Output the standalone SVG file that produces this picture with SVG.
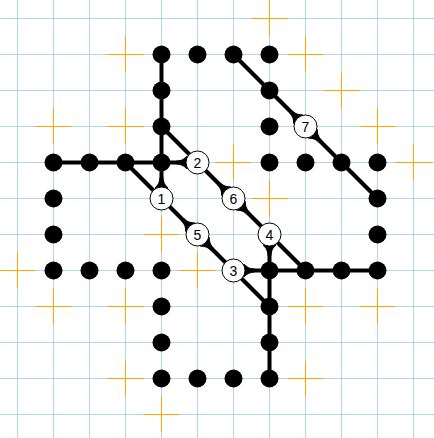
<svg xmlns="http://www.w3.org/2000/svg" xmlns:xlink="http://www.w3.org/1999/xlink" width="434" height="438" viewBox="0 0 434 438">
<style>
.grid line{stroke:#add8e6;stroke-width:1}
.cross{stroke:#ffa500;stroke-width:1;fill:none}
.edge{stroke:#000;stroke-width:4;fill:none;stroke-linejoin:round}
.dot{fill:#000}
.ring{fill:#fff;stroke:#000;stroke-width:1}
.lbl{font-family:"Liberation Sans",Arial,sans-serif;font-size:14px;fill:#000;text-anchor:middle}
</style>
<defs>
<path id="wedge" d="M7,-6.5 L11,-6.5 Q15,-2 21,-2 L21,2 Q15,2 11,6.5 L7,6.5 Z" fill="#000"/>
<path id="cr" d="M-18,0 H18 M0,-18 V18"/>
</defs>
<rect width="434" height="438" fill="#fff"/>
<g class="grid">
<line x1="17.5" y1="0" x2="17.5" y2="438"/>
<line x1="53.5" y1="0" x2="53.5" y2="438"/>
<line x1="89.5" y1="0" x2="89.5" y2="438"/>
<line x1="125.5" y1="0" x2="125.5" y2="438"/>
<line x1="161.5" y1="0" x2="161.5" y2="438"/>
<line x1="197.5" y1="0" x2="197.5" y2="438"/>
<line x1="233.5" y1="0" x2="233.5" y2="438"/>
<line x1="269.5" y1="0" x2="269.5" y2="438"/>
<line x1="305.5" y1="0" x2="305.5" y2="438"/>
<line x1="341.5" y1="0" x2="341.5" y2="438"/>
<line x1="377.5" y1="0" x2="377.5" y2="438"/>
<line x1="413.5" y1="0" x2="413.5" y2="438"/>
<line x1="0" y1="18.5" x2="434" y2="18.5"/>
<line x1="0" y1="54.5" x2="434" y2="54.5"/>
<line x1="0" y1="90.5" x2="434" y2="90.5"/>
<line x1="0" y1="126.5" x2="434" y2="126.5"/>
<line x1="0" y1="162.5" x2="434" y2="162.5"/>
<line x1="0" y1="198.5" x2="434" y2="198.5"/>
<line x1="0" y1="234.5" x2="434" y2="234.5"/>
<line x1="0" y1="270.5" x2="434" y2="270.5"/>
<line x1="0" y1="306.5" x2="434" y2="306.5"/>
<line x1="0" y1="342.5" x2="434" y2="342.5"/>
<line x1="0" y1="378.5" x2="434" y2="378.5"/>
<line x1="0" y1="414.5" x2="434" y2="414.5"/>
</g>
<g class="cross">
<use xlink:href="#cr" href="#cr" transform="translate(125.5,54.5)"/>
<use xlink:href="#cr" href="#cr" transform="translate(53.5,126.5)"/>
<use xlink:href="#cr" href="#cr" transform="translate(125.5,126.5)"/>
<use xlink:href="#cr" href="#cr" transform="translate(233.5,162.5)"/>
<use xlink:href="#cr" href="#cr" transform="translate(161.5,234.5)"/>
<use xlink:href="#cr" href="#cr" transform="translate(269.5,18.5)"/>
<use xlink:href="#cr" href="#cr" transform="translate(305.5,54.5)"/>
<use xlink:href="#cr" href="#cr" transform="translate(341.5,90.5)"/>
<use xlink:href="#cr" href="#cr" transform="translate(377.5,126.5)"/>
<use xlink:href="#cr" href="#cr" transform="translate(413.5,162.5)"/>
<use xlink:href="#cr" href="#cr" transform="translate(269.5,198.5)"/>
<use xlink:href="#cr" href="#cr" transform="translate(197.5,270.5)"/>
<use xlink:href="#cr" href="#cr" transform="translate(17.5,270.5)"/>
<use xlink:href="#cr" href="#cr" transform="translate(53.5,306.5)"/>
<use xlink:href="#cr" href="#cr" transform="translate(125.5,306.5)"/>
<use xlink:href="#cr" href="#cr" transform="translate(125.5,378.5)"/>
<use xlink:href="#cr" href="#cr" transform="translate(161.5,414.5)"/>
<use xlink:href="#cr" href="#cr" transform="translate(305.5,306.5)"/>
<use xlink:href="#cr" href="#cr" transform="translate(377.5,306.5)"/>
<use xlink:href="#cr" href="#cr" transform="translate(305.5,378.5)"/>
</g>
<g id="connectors">
<path class="edge" d="M161.5,54.5 V198.5"/>
<path class="edge" d="M53.5,162.5 H197.5"/>
<path class="edge" d="M161.5,126.5 L305.5,270.5"/>
<path class="edge" d="M125.5,162.5 L269.5,306.5"/>
<path class="edge" d="M233.5,270.5 H377.5"/>
<path class="edge" d="M269.5,234.5 V378.5"/>
<path class="edge" d="M233.5,54.5 L377.5,198.5"/>
<use xlink:href="#wedge" href="#wedge" transform="translate(161.5,198.5) rotate(-90)"/>
<use xlink:href="#wedge" href="#wedge" transform="translate(197.5,162.5) rotate(180)"/>
<use xlink:href="#wedge" href="#wedge" transform="translate(197.5,234.5) rotate(-135)"/>
<use xlink:href="#wedge" href="#wedge" transform="translate(197.5,234.5) rotate(45)"/>
<use xlink:href="#wedge" href="#wedge" transform="translate(233.5,198.5) rotate(-135)"/>
<use xlink:href="#wedge" href="#wedge" transform="translate(233.5,198.5) rotate(45)"/>
<use xlink:href="#wedge" href="#wedge" transform="translate(233.5,270.5)"/>
<use xlink:href="#wedge" href="#wedge" transform="translate(269.5,234.5) rotate(90)"/>
<use xlink:href="#wedge" href="#wedge" transform="translate(305.5,126.5) rotate(-135)"/>
<use xlink:href="#wedge" href="#wedge" transform="translate(305.5,126.5) rotate(45)"/>
</g>
<g id="dots" class="dot">
<circle id="d1" cx="161.5" cy="54.5" r="9"/>
<circle id="d2" cx="197.5" cy="54.5" r="9"/>
<circle id="d3" cx="233.5" cy="54.5" r="9"/>
<circle id="d4" cx="269.5" cy="54.5" r="9"/>
<circle id="d5" cx="161.5" cy="90.5" r="9"/>
<circle id="d6" cx="269.5" cy="90.5" r="9"/>
<circle id="d7" cx="161.5" cy="126.5" r="9"/>
<circle id="d8" cx="269.5" cy="126.5" r="9"/>
<circle id="d9" cx="53.5" cy="162.5" r="9"/>
<circle id="d10" cx="89.5" cy="162.5" r="9"/>
<circle id="d11" cx="125.5" cy="162.5" r="9"/>
<circle id="d12" cx="161.5" cy="162.5" r="9"/>
<circle id="d13" cx="269.5" cy="162.5" r="9"/>
<circle id="d14" cx="305.5" cy="162.5" r="9"/>
<circle id="d15" cx="341.5" cy="162.5" r="9"/>
<circle id="d16" cx="377.5" cy="162.5" r="9"/>
<circle id="d17" cx="53.5" cy="198.5" r="9"/>
<circle id="d18" cx="377.5" cy="198.5" r="9"/>
<circle id="d19" cx="53.5" cy="234.5" r="9"/>
<circle id="d20" cx="377.5" cy="234.5" r="9"/>
<circle id="d21" cx="53.5" cy="270.5" r="9"/>
<circle id="d22" cx="89.5" cy="270.5" r="9"/>
<circle id="d23" cx="125.5" cy="270.5" r="9"/>
<circle id="d24" cx="161.5" cy="270.5" r="9"/>
<circle id="d25" cx="269.5" cy="270.5" r="9"/>
<circle id="d26" cx="305.5" cy="270.5" r="9"/>
<circle id="d27" cx="341.5" cy="270.5" r="9"/>
<circle id="d28" cx="377.5" cy="270.5" r="9"/>
<circle id="d29" cx="161.5" cy="306.5" r="9"/>
<circle id="d30" cx="269.5" cy="306.5" r="9"/>
<circle id="d31" cx="161.5" cy="342.5" r="9"/>
<circle id="d32" cx="269.5" cy="342.5" r="9"/>
<circle id="d33" cx="161.5" cy="378.5" r="9"/>
<circle id="d34" cx="197.5" cy="378.5" r="9"/>
<circle id="d35" cx="233.5" cy="378.5" r="9"/>
<circle id="d36" cx="269.5" cy="378.5" r="9"/>
</g>
<g id="n1"><circle class="ring" cx="161.5" cy="198.5" r="11.5"/><text class="lbl" x="161.5" y="203.5">1</text></g>
<g id="n2"><circle class="ring" cx="197.5" cy="162.5" r="11.5"/><text class="lbl" x="197.5" y="167.5">2</text></g>
<g id="n3"><circle class="ring" cx="233.5" cy="270.5" r="11.5"/><text class="lbl" x="233.5" y="275.5">3</text></g>
<g id="n4"><circle class="ring" cx="269.5" cy="234.5" r="11.5"/><text class="lbl" x="269.5" y="239.5">4</text></g>
<g id="n5"><circle class="ring" cx="197.5" cy="234.5" r="11.5"/><text class="lbl" x="197.5" y="239.5">5</text></g>
<g id="n6"><circle class="ring" cx="233.5" cy="198.5" r="11.5"/><text class="lbl" x="233.5" y="203.5">6</text></g>
<g id="n7"><circle class="ring" cx="305.5" cy="126.5" r="11.5"/><text class="lbl" x="305.5" y="131.5">7</text></g>
</svg>
